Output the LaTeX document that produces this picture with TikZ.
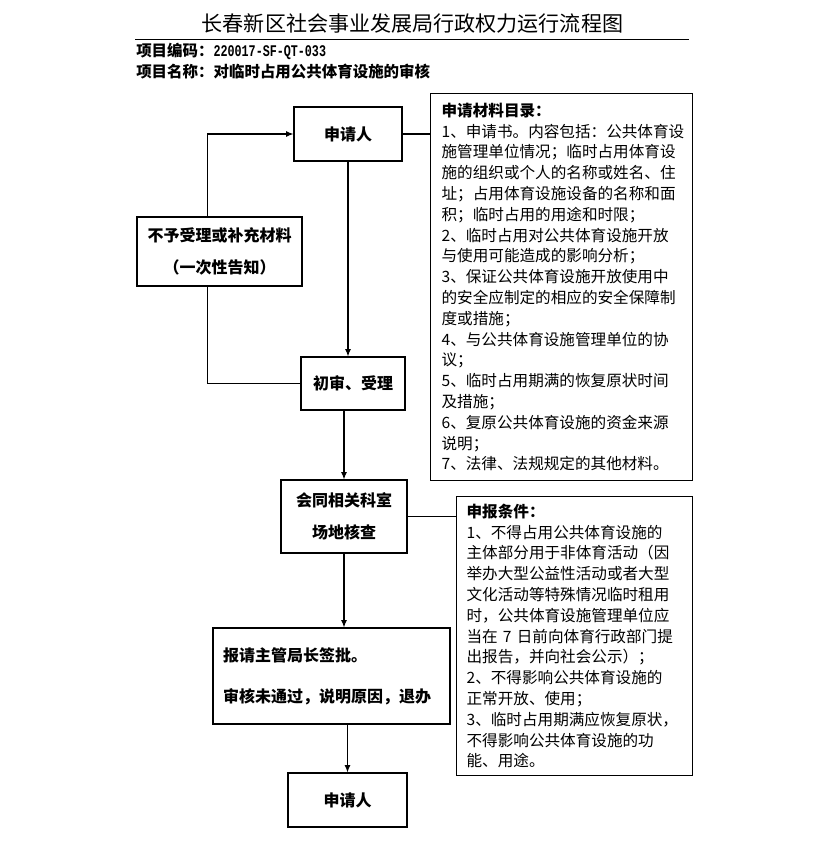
\documentclass[tikz,border=0pt]{standalone}
\usepackage{fontspec}
\setmainfont{Noto Sans CJK SC}
\newfontfamily\codefont[FakeStretch=0.72]{Liberation Mono}
\usetikzlibrary{arrows.meta,calc}
\tikzset{
  flowbox/.style={draw, line width=0.9pt, inner sep=0pt, align=center,
    font=\fontsize{12pt}{24pt}\selectfont\bfseries},
  infobox/.style={draw, line width=0.9pt, anchor=north west, align=left,
    inner ysep=0pt, font=\fontsize{11.7pt}{15.6pt}\selectfont},
  conn/.style={line width=0.8pt},
  arr/.style={conn, -{Latex[length=5.5pt,width=4.5pt]}}
}
\begin{document}
\begin{tikzpicture}[x=0.75pt,y=-0.75pt]
\useasboundingbox (0,0) rectangle (823,843);
% title and header
\node (title) at (412.5,24) {\fontsize{15.8pt}{18pt}\selectfont 长春新区社会事业发展局行政权力运行流程图};
\draw[line width=0.8pt] (135,39.5) -- (689,39.5);
\node[anchor=west, inner sep=0pt] (code) at (136,51) {\fontsize{11.6pt}{14pt}\selectfont\bfseries 项目编码：{\codefont\fontsize{12.2pt}{14pt}\selectfont 220017-SF-QT-033}};
\node[anchor=west, inner sep=0pt] (name) at (136,72) {\fontsize{11.6pt}{14pt}\selectfont\bfseries 项目名称：对临时占用公共体育设施的审核};
% flow boxes
\node[flowbox, minimum width=81pt, minimum height=40.5pt] (ap1) at (348,134) {申请人};
\node[flowbox, minimum width=123.75pt, minimum height=51.75pt] (bu) at (219.5,251.5) {不予受理或补充材料\\（一次性告知）};
\node[flowbox, minimum width=78pt, minimum height=39.75pt] (chushen) at (353,383.5) {初审、受理};
\node[flowbox, minimum width=94.5pt, minimum height=54.75pt] (hui) at (344,516.5) {会同相关科室\\场地核查};
\node[flowbox, minimum width=177.75pt, minimum height=72pt, align=left, text width=162.75pt, inner xsep=7.5pt,
  font=\fontsize{12pt}{30.75pt}\selectfont\bfseries] (baoqing) at (331.5,676) {报请主管局长签批。\\审核未通过，说明原因，退办};
\node[flowbox, minimum width=89.25pt, minimum height=40.5pt] (ap2) at (347.5,800) {申请人};
% info boxes
\node[infobox, minimum width=196.5pt, minimum height=290.25pt, text width=180pt, inner xsep=8.25pt] (box1) at (430,93) {%
{\bfseries 申请材料目录：}\\
1、申请书。内容包括：公共体育设\\
施管理单位情况；临时占用体育设\\
施的组织或个人的名称或姓名、住\\
址；占用体育设施设备的名称和面\\
积；临时占用的用途和时限；\\
2、临时占用对公共体育设施开放\\
与使用可能造成的影响分析；\\
3、保证公共体育设施开放使用中\\
的安全应制定的相应的安全保障制\\
度或措施；\\
4、与公共体育设施管理单位的协\\
议；\\
5、临时占用期满的恢复原状时间\\
及措施；\\
6、复原公共体育设施的资金来源\\
说明；\\
7、法律、法规规定的其他材料。};
\node[infobox, minimum width=177pt, minimum height=209.25pt, text width=162pt, inner xsep=7.5pt] (box2) at (456,496) {%
{\bfseries 申报条件：}\\
1、不得占用公共体育设施的\\
主体部分用于非体育活动（因\\
举办大型公益性活动或者大型\\
文化活动等特殊情况临时租用\\
时，公共体育设施管理单位应\\
当在 7 日前向体育行政部门提\\
出报告，并向社会公示）；\\
2、不得影响公共体育设施的\\
正常开放、使用；\\
3、临时占用期满应恢复原状，\\
不得影响公共体育设施的功\\
能、用途。};
% connectors
\coordinate (lt) at ($(bu.north west)!0.43!(bu.north east)$);
\coordinate (lb) at ($(bu.south west)!0.43!(bu.south east)$);
\draw[arr] (lt) |- (ap1.west);
\draw[conn] (lb) |- (chushen.west);
\draw[arr] (ap1.south) -- (ap1.south |- chushen.north);
\draw[arr] (hui.north |- chushen.south) -- (hui.north);
\draw[arr] (hui.south) -- (hui.south |- baoqing.north);
\draw[arr] (ap2.north |- baoqing.south) -- (ap2.north);
\draw[conn] (ap1.east) -- (ap1.east -| box1.west);
\draw[conn] (hui.east) -- (hui.east -| box2.west);
\end{tikzpicture}
\end{document}
